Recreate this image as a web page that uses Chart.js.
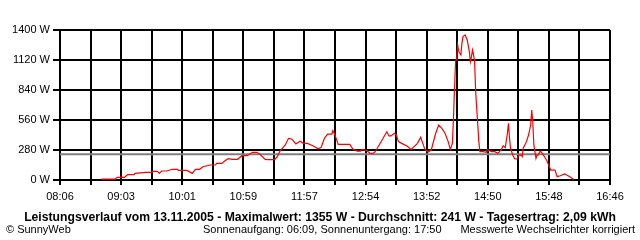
<!DOCTYPE html>
<html>
<head>
<meta charset="utf-8">
<script src="https://cdn.jsdelivr.net/npm/chart.js@4.4.0/dist/chart.umd.min.js"></script>
<style>
  body { margin: 0; background: #fff; }
  canvas { display: block; }
</style>
</head>
<body>
<canvas id="myChart" width="640" height="240"></canvas>
<script>
// measured power (W) over the day
var times = ['08:45','08:58','09:00','09:07','09:10','09:16','09:17','09:27','09:33','09:34','09:38','09:40','09:42','09:47','09:52','09:57','09:58','10:06','10:11','10:14','10:18','10:21','10:28','10:33','10:34','10:39','10:42','10:45','10:49','10:54','10:58','11:03','11:08','11:12','11:15','11:20','11:23','11:27','11:29','11:31','11:34','11:39','11:42','11:45','11:49','11:53','11:56','12:00','12:05','12:10','12:13','12:16','12:19','12:23','12:24','12:26','12:29','12:40','12:43','12:47','12:50','12:52','12:56','12:59','13:02','13:04','13:09','13:15','13:17','13:19','13:22','13:24','13:26','13:29','13:34','13:38','13:44','13:47','13:49','13:51','13:54','13:57','14:01','14:04','14:07','14:10','14:13','14:15','14:17','14:18','14:19','14:20','14:21','14:22','14:23','14:25','14:26','14:27','14:29','14:31','14:33','14:34','14:35','14:36','14:37','14:38','14:39','14:41','14:42','14:43','14:46','14:49','14:50','14:54','14:57','15:00','15:03','15:05','15:07','15:09','15:10','15:11','15:12','15:14','15:16','15:18','15:20','15:22','15:23','15:24','15:27','15:29','15:31','15:32','15:33','15:34','15:36','15:37','15:38','15:40','15:42','15:46','15:48','15:50','15:54','15:56','15:59','16:03','16:05','16:08','16:11','16:12'];
var watts = [8,8,25,25,50,50,62,72,72,81,81,62,84,84,100,100,90,90,62,100,100,124,140,140,155,155,180,199,193,193,227,227,258,258,240,193,190,190,193,212,270,327,389,383,336,361,342,342,320,292,305,389,429,429,460,420,333,333,286,270,270,286,274,249,249,264,348,451,411,411,436,420,358,342,317,286,342,398,342,286,261,280,429,513,482,436,358,286,342,576,856,1104,1128,1260,1198,1167,1276,1338,1353,1307,1198,1104,1151,1213,1167,1104,824,513,358,264,264,258,286,264,264,249,280,320,302,436,529,389,296,233,196,196,233,233,218,296,358,420,513,653,544,327,202,233,233,270,249,187,140,93,93,31,40,56,47,31,9,5];

var xTickLabels = ['08:06','09:03','10:01','10:59','11:57','12:54','13:52','14:50','15:48','16:46'];
var yTicks = [0, 280, 560, 840, 1120, 1400];

var avgValue = 241;
var maxValue = 1355;
var dayYield = '2,09';
var dateText = '13.11.2005';
var sunrise = '06:09';
var sunset = '17:50';

function toMin(s) {
    var p = s.split(':');
    return parseInt(p[0], 10) * 60 + parseInt(p[1], 10);
}

var xStart = toMin(xTickLabels[0]);
var xEnd = toMin(xTickLabels[xTickLabels.length - 1]);

var points = times.map(function(t, i) { return { x: toMin(t), y: watts[i] }; });

var titleText = 'Leistungsverlauf vom ' + dateText + ' - Maximalwert: ' + maxValue +
    ' W - Durchschnitt: ' + avgValue + ' W - Tagesertrag: ' + dayYield + ' kWh';

var fontFam = '"Liberation Sans", Arial, sans-serif';
Chart.defaults.font.family = fontFam;
Chart.defaults.color = '#000';

var footerText = {
    id: 'footerText',
    afterDraw: function(chart) {
        var ctx = chart.ctx;
        ctx.save();
        ctx.fillStyle = '#000';
        ctx.textBaseline = 'alphabetic';
        ctx.font = 'bold 12.2px ' + fontFam;
        ctx.textAlign = 'center';
        ctx.fillText(titleText, 320, 221);
        ctx.font = '11px ' + fontFam;
        ctx.textAlign = 'left';
        ctx.fillText('\u00A9 SunnyWeb', 6, 233);
        ctx.fillText('Sonnenaufgang: ' + sunrise + ', Sonnenuntergang: ' + sunset, 203, 233);
        ctx.textAlign = 'right';
        ctx.fillText('Messwerte Wechselrichter korrigiert', 635, 233);
        ctx.restore();
    }
};

var ctx = document.getElementById('myChart').getContext('2d');
var myChart = new Chart(ctx, {
    type: 'line',
    data: {
        datasets: [{
            label: 'Leistung',
            data: points,
            borderColor: '#ff0000',
            borderWidth: 1.2,
            pointRadius: 0,
            tension: 0,
            order: 1
        }, {
            label: 'Durchschnitt',
            data: [{ x: xStart, y: avgValue }, { x: xEnd, y: avgValue }],
            borderColor: '#808080',
            borderWidth: 2,
            pointRadius: 0,
            order: 2
        }]
    },
    options: {
        responsive: false,
        animation: false,
        devicePixelRatio: 1,
        layout: { padding: { top: 30, right: 30, left: 0, bottom: 0 } },
        plugins: {
            legend: { display: false },
            tooltip: { enabled: false }
        },
        scales: {
            x: {
                type: 'linear',
                min: xStart,
                max: xEnd,
                afterBuildTicks: function(scale) {
                    var t = [];
                    var n = (xTickLabels.length - 1) * 2;
                    for (var i = 0; i <= n; i++) t.push({ value: xStart + (xEnd - xStart) * i / n });
                    scale.ticks = t;
                },
                afterFit: function(scale) { scale.height = 60; },
                ticks: {
                    autoSkip: false,
                    maxRotation: 0,
                    padding: 5,
                    font: { size: 11 },
                    callback: function(v, i) { return i % 2 === 0 ? xTickLabels[i / 2] : ''; }
                },
                grid: { color: '#000', lineWidth: 2, tickLength: 5, tickColor: '#000' },
                border: { color: '#000', width: 2 }
            },
            y: {
                min: yTicks[0],
                max: yTicks[yTicks.length - 1],
                afterBuildTicks: function(scale) {
                    scale.ticks = yTicks.map(function(v) { return { value: v }; });
                },
                afterFit: function(scale) { scale.width = 60; },
                ticks: {
                    padding: 3,
                    font: { size: 11 },
                    callback: function(v) { return v + ' W'; }
                },
                grid: { color: '#000', lineWidth: 2, tickLength: 7, tickColor: '#000' },
                border: { color: '#000', width: 2 }
            }
        }
    },
    plugins: [footerText]
});
</script>
</body>
</html>
